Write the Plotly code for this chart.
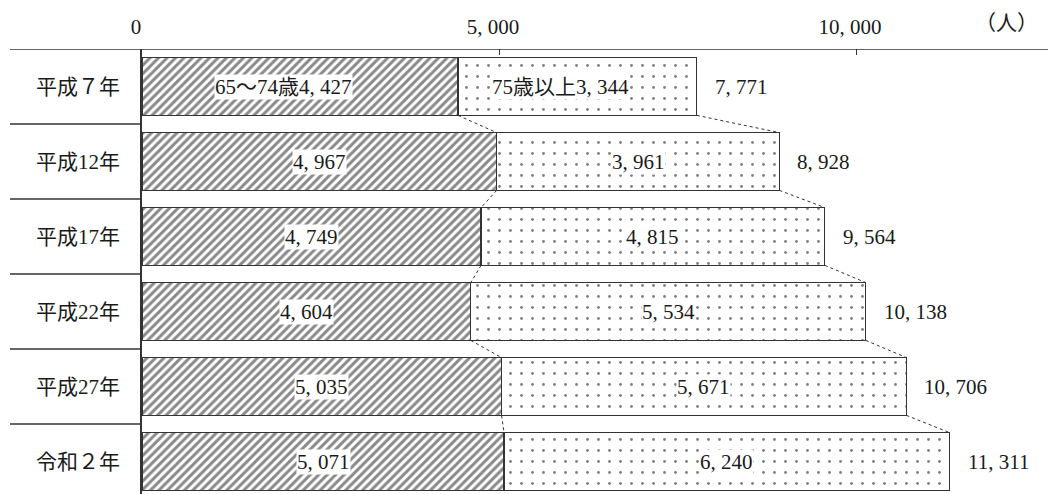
import plotly.graph_objects as go

years = ["平成７年", "平成12年", "平成17年", "平成22年", "平成27年", "令和２年"]
age_65_74 = [4427, 4967, 4749, 4604, 5035, 5071]
age_75_over = [3344, 3961, 4815, 5534, 5671, 6240]
totals = [7771, 8928, 9564, 10138, 10706, 11311]
series_names = ["65〜74歳", "75歳以上"]
x_tick_values = [0, 5000, 10000]
x_tick_labels = ["0", "5, 000", "10, 000"]
unit_label = "（人）"

FONT = "Liberation Serif, Noto Sans CJK JP"
TXT = "#1a1a1a"
LINE = "#333333"
# the page body has an 8px margin, so the figure starts at (8, 8)
W, H = 1048, 486
ML, MT = 134, 41
BAR_W = 0.77


def fmt(v):
    return f"{v:,}".replace(",", ", ")


ypos = list(range(len(years)))

fig = go.Figure()
fig.add_trace(go.Bar(
    y=ypos, x=age_65_74, orientation="h", width=BAR_W, name=series_names[0],
    marker=dict(color="white", line=dict(color=LINE, width=1.2),
                pattern=dict(shape="/", size=6, solidity=0.5, fgcolor="#141414", bgcolor="white")),
    hoverinfo="skip",
))
fig.add_trace(go.Bar(
    y=ypos, x=age_75_over, orientation="h", width=BAR_W, name=series_names[1],
    marker=dict(color="white", line=dict(color=LINE, width=1.2),
                pattern=dict(shape=".", size=11, solidity=0.05, fgcolor="#000000", bgcolor="white")),
    hoverinfo="skip",
))

# series (connector) lines
half = BAR_W / 2
for i in range(len(years) - 1):
    for cur, nxt in ((age_65_74[i], age_65_74[i + 1]), (totals[i], totals[i + 1])):
        fig.add_trace(go.Scatter(
            x=[cur, nxt], y=[i + half, i + 1 - half], mode="lines",
            line=dict(color=LINE, width=1, dash="dot"), hoverinfo="skip", showlegend=False,
        ))

annotations = []
for i in range(len(years)):
    a, b, t = age_65_74[i], age_75_over[i], totals[i]
    t1 = fmt(a) if i else series_names[0] + fmt(a)
    t2 = fmt(b) if i else series_names[1] + fmt(b)
    shift = -17 if i == 0 else 0
    annotations.append(dict(x=a / 2, y=i, xref="x", yref="y", text=t1, showarrow=False,
                            bgcolor="white", borderpad=0, xshift=shift,
                            font=dict(family=FONT, size=21, color=TXT)))
    annotations.append(dict(x=a + b / 2, y=i, xref="x", yref="y", text=t2, showarrow=False,
                            bgcolor="white", borderpad=0, xshift=shift,
                            font=dict(family=FONT, size=21, color=TXT)))
    annotations.append(dict(x=t, y=i, xref="x", yref="y", text=fmt(t), showarrow=False,
                            xanchor="left", xshift=16,
                            font=dict(family=FONT, size=21, color=TXT)))

pw = W - ML
px_per_unit = 75.0
ph = H - MT
y_bottom = -0.5 + ph / px_per_unit
x_max = pw / 71.4 * 1000

annotations.append(dict(x=1, y=1, xref="paper", yref="paper", text=unit_label, showarrow=False,
                        xanchor="right", yanchor="bottom", xshift=-16, yshift=12,
                        font=dict(family=FONT, size=21, color=TXT)))

left_px = 2
shapes = [dict(type="line", xref="paper", yref="y", x0=-(ML - left_px) / pw, x1=1, y0=-0.5, y1=-0.5,
               line=dict(color=LINE, width=1.5))]
for i in range(len(years) - 1):
    shapes.append(dict(type="line", xref="paper", yref="y", x0=-(ML - left_px) / pw, x1=0,
                       y0=i + 0.5, y1=i + 0.5, line=dict(color=LINE, width=1.5)))

fig.update_layout(
    width=W, height=H, barmode="stack", showlegend=False,
    margin=dict(l=ML, r=0, t=MT, b=0, pad=0, autoexpand=False),
    paper_bgcolor="white", plot_bgcolor="white",
    font=dict(family=FONT, size=21, color=TXT),
    annotations=annotations, shapes=shapes,
    xaxis=dict(side="top", range=[0, x_max], tickvals=x_tick_values, ticktext=x_tick_labels,
               ticks="inside", ticklen=6, tickcolor=LINE, showgrid=False, zeroline=False,
               showline=False, ticklabelshift=-6, ticklabelstandoff=10, automargin=False,
               tickfont=dict(family=FONT, size=21, color=TXT)),
    yaxis=dict(range=[y_bottom, -0.5], tickvals=ypos, ticktext=years, showgrid=False,
               zeroline=False, showline=True, linecolor=LINE, linewidth=1.5,
               ticks="", ticklabelstandoff=16, automargin=False,
               tickfont=dict(family=FONT, size=21, color=TXT)),
)

fig.write_html("out.html")
